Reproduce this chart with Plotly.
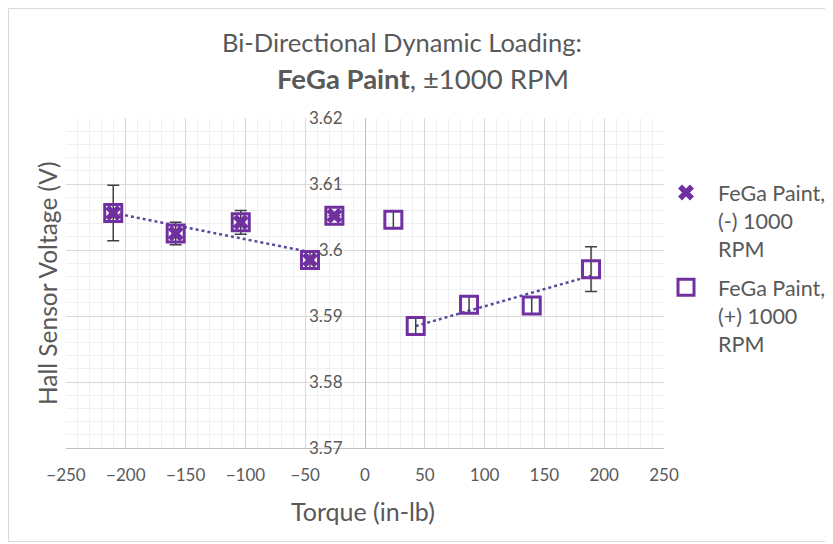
import numpy as np
import plotly.graph_objects as go

# ---- data ----
minus_torque = [-210.5, -158.3, -103.9, -46.0, -25.6]
minus_voltage = [3.6056, 3.6025, 3.6042, 3.5985, 3.6052]
minus_err = [0.0042, 0.0017, 0.0018, 0.0013, 0.0]

plus_torque = [23.7, 42.4, 87.0, 139.4, 189.0]
plus_voltage = [3.6046, 3.5885, 3.5917, 3.5916, 3.5971]
plus_err = [0.0013, 0.0013, 0.0013, 0.0013, 0.0034]

x_ticks = [-250, -200, -150, -100, -50, 0, 50, 100, 150, 200, 250]
y_ticks = [3.57, 3.58, 3.59, 3.60, 3.61, 3.62]
y_tick_text = ["3.57", "3.58", "3.59", "3.6", "3.61", "3.62"]

PURPLE = "#7030A0"
TREND = "#5A4A9E"
GREY = "#595959"
FONT = "Lato"

# page offset of the plot div (browser body margin)
OFF = 8
# plot area in screen pixels (for placing annotations)
L, R, T, B = 66, 664, 118, 448
W, H = 833 - OFF, 544 - OFF
def px(x):
    return (x - L) / (R - L)
def py(y):
    return (B - y) / (B - T)

fig = go.Figure()

# linear trendlines (like Excel's) over the bracketed groups
tm = np.array(minus_torque[:4]); vm = np.array(minus_voltage[:4])
cm = np.polyfit(tm, vm, 1)
xm = np.array([tm.min(), tm.max()])
fig.add_trace(go.Scatter(x=xm, y=np.polyval(cm, xm), mode="lines",
                         line=dict(color=TREND, width=2.5, dash="dot"),
                         showlegend=False, hoverinfo="skip"))
tp = np.array(plus_torque[1:]); vp = np.array(plus_voltage[1:])
cp = np.polyfit(tp, vp, 1)
xp = np.array([tp.min(), tp.max()])
fig.add_trace(go.Scatter(x=xp, y=np.polyval(cp, xp), mode="lines",
                         line=dict(color=TREND, width=2.5, dash="dot"),
                         showlegend=False, hoverinfo="skip"))

err_style = dict(type="data", visible=True, color="#404040", thickness=1.5, width=6)

# (-) 1000 RPM series: X markers
fig.add_trace(go.Scatter(
    x=minus_torque, y=minus_voltage, mode="markers",
    name="FeGa Paint,<br>(-) 1000<br>RPM", legendgroup="minus",
    marker=dict(symbol="x", size=14, color=PURPLE, line=dict(width=0)),
    error_y=dict(array=minus_err, **err_style),
))
# squares overlapping the (-) points
fig.add_trace(go.Scatter(
    x=minus_torque, y=minus_voltage, mode="markers", showlegend=False,
    legendgroup="minus",
    marker=dict(symbol="square-open", size=17, color=PURPLE, line=dict(width=3, color=PURPLE)),
    hoverinfo="skip",
))
# (+) 1000 RPM series: hollow squares
fig.add_trace(go.Scatter(
    x=plus_torque, y=plus_voltage, mode="markers",
    name="FeGa Paint,<br>(+) 1000<br>RPM", legendgroup="plus",
    marker=dict(symbol="square-open", size=17, color=PURPLE, line=dict(width=3, color=PURPLE)),
    error_y=dict(array=plus_err, **err_style),
))

fig.update_layout(
    width=W, height=H,
    margin=dict(l=L - OFF, r=833 - R, t=T - OFF, b=544 - B, autoexpand=False),
    paper_bgcolor="white", plot_bgcolor="white",
    font=dict(family=FONT, color=GREY, size=17),
    showlegend=True,
    legend=dict(x=px(654), y=py(172), xanchor="left", yanchor="top",
                font=dict(size=21.5, color=GREY, family=FONT),
                itemwidth=54, valign="top", tracegroupgap=8,
                bgcolor="rgba(0,0,0,0)"),
    xaxis=dict(range=[-250, 250], tickvals=x_ticks, ticks="",
               showgrid=True, gridcolor="#D9D9D9", gridwidth=1,
               minor=dict(dtick=10, showgrid=True, gridcolor="#F0F0F0", gridwidth=1),
               showline=True, linecolor="#BFBFBF", linewidth=1,
               zeroline=False, tickfont=dict(size=17, color=GREY),
               ticklabelstandoff=12, fixedrange=True),
    yaxis=dict(range=[3.57, 3.62], tickvals=y_ticks, ticktext=y_tick_text, ticks="",
               anchor="free", position=0.5,
               showgrid=True, gridcolor="#D9D9D9", gridwidth=1,
               minor=dict(dtick=0.002, showgrid=True, gridcolor="#F0F0F0", gridwidth=1),
               showline=True, linecolor="#BFBFBF", linewidth=1,
               zeroline=False, tickfont=dict(size=17, color=GREY),
               ticklabelstandoff=19, fixedrange=True),
)

annotations = [
    dict(text="Bi-Directional Dynamic Loading:", x=px(402), y=py(42),
         font=dict(size=25.5, color=GREY, family=FONT)),
    dict(text="<b>FeGa Paint</b>, ±1000 RPM", x=px(423), y=py(78),
         font=dict(size=27.5, color=GREY, family=FONT)),
    dict(text="Hall Sensor Voltage (V)", x=px(47), y=py(283), textangle=-90,
         font=dict(size=24.5, color=GREY, family=FONT)),
    dict(text="Torque (in-lb)", x=px(363), y=py(511),
         font=dict(size=25, color=GREY, family=FONT)),
]
for a in annotations:
    a.update(xref="paper", yref="paper", showarrow=False, xanchor="center", yanchor="middle")
fig.update_layout(annotations=annotations)

fig.add_shape(type="rect", xref="paper", yref="paper",
              x0=px(OFF + 0.5), x1=px(831.5), y0=py(541.5), y1=py(OFF + 0.5),
              line=dict(color="#D9D9D9", width=1), layer="below")

fig.write_html("out.html")
